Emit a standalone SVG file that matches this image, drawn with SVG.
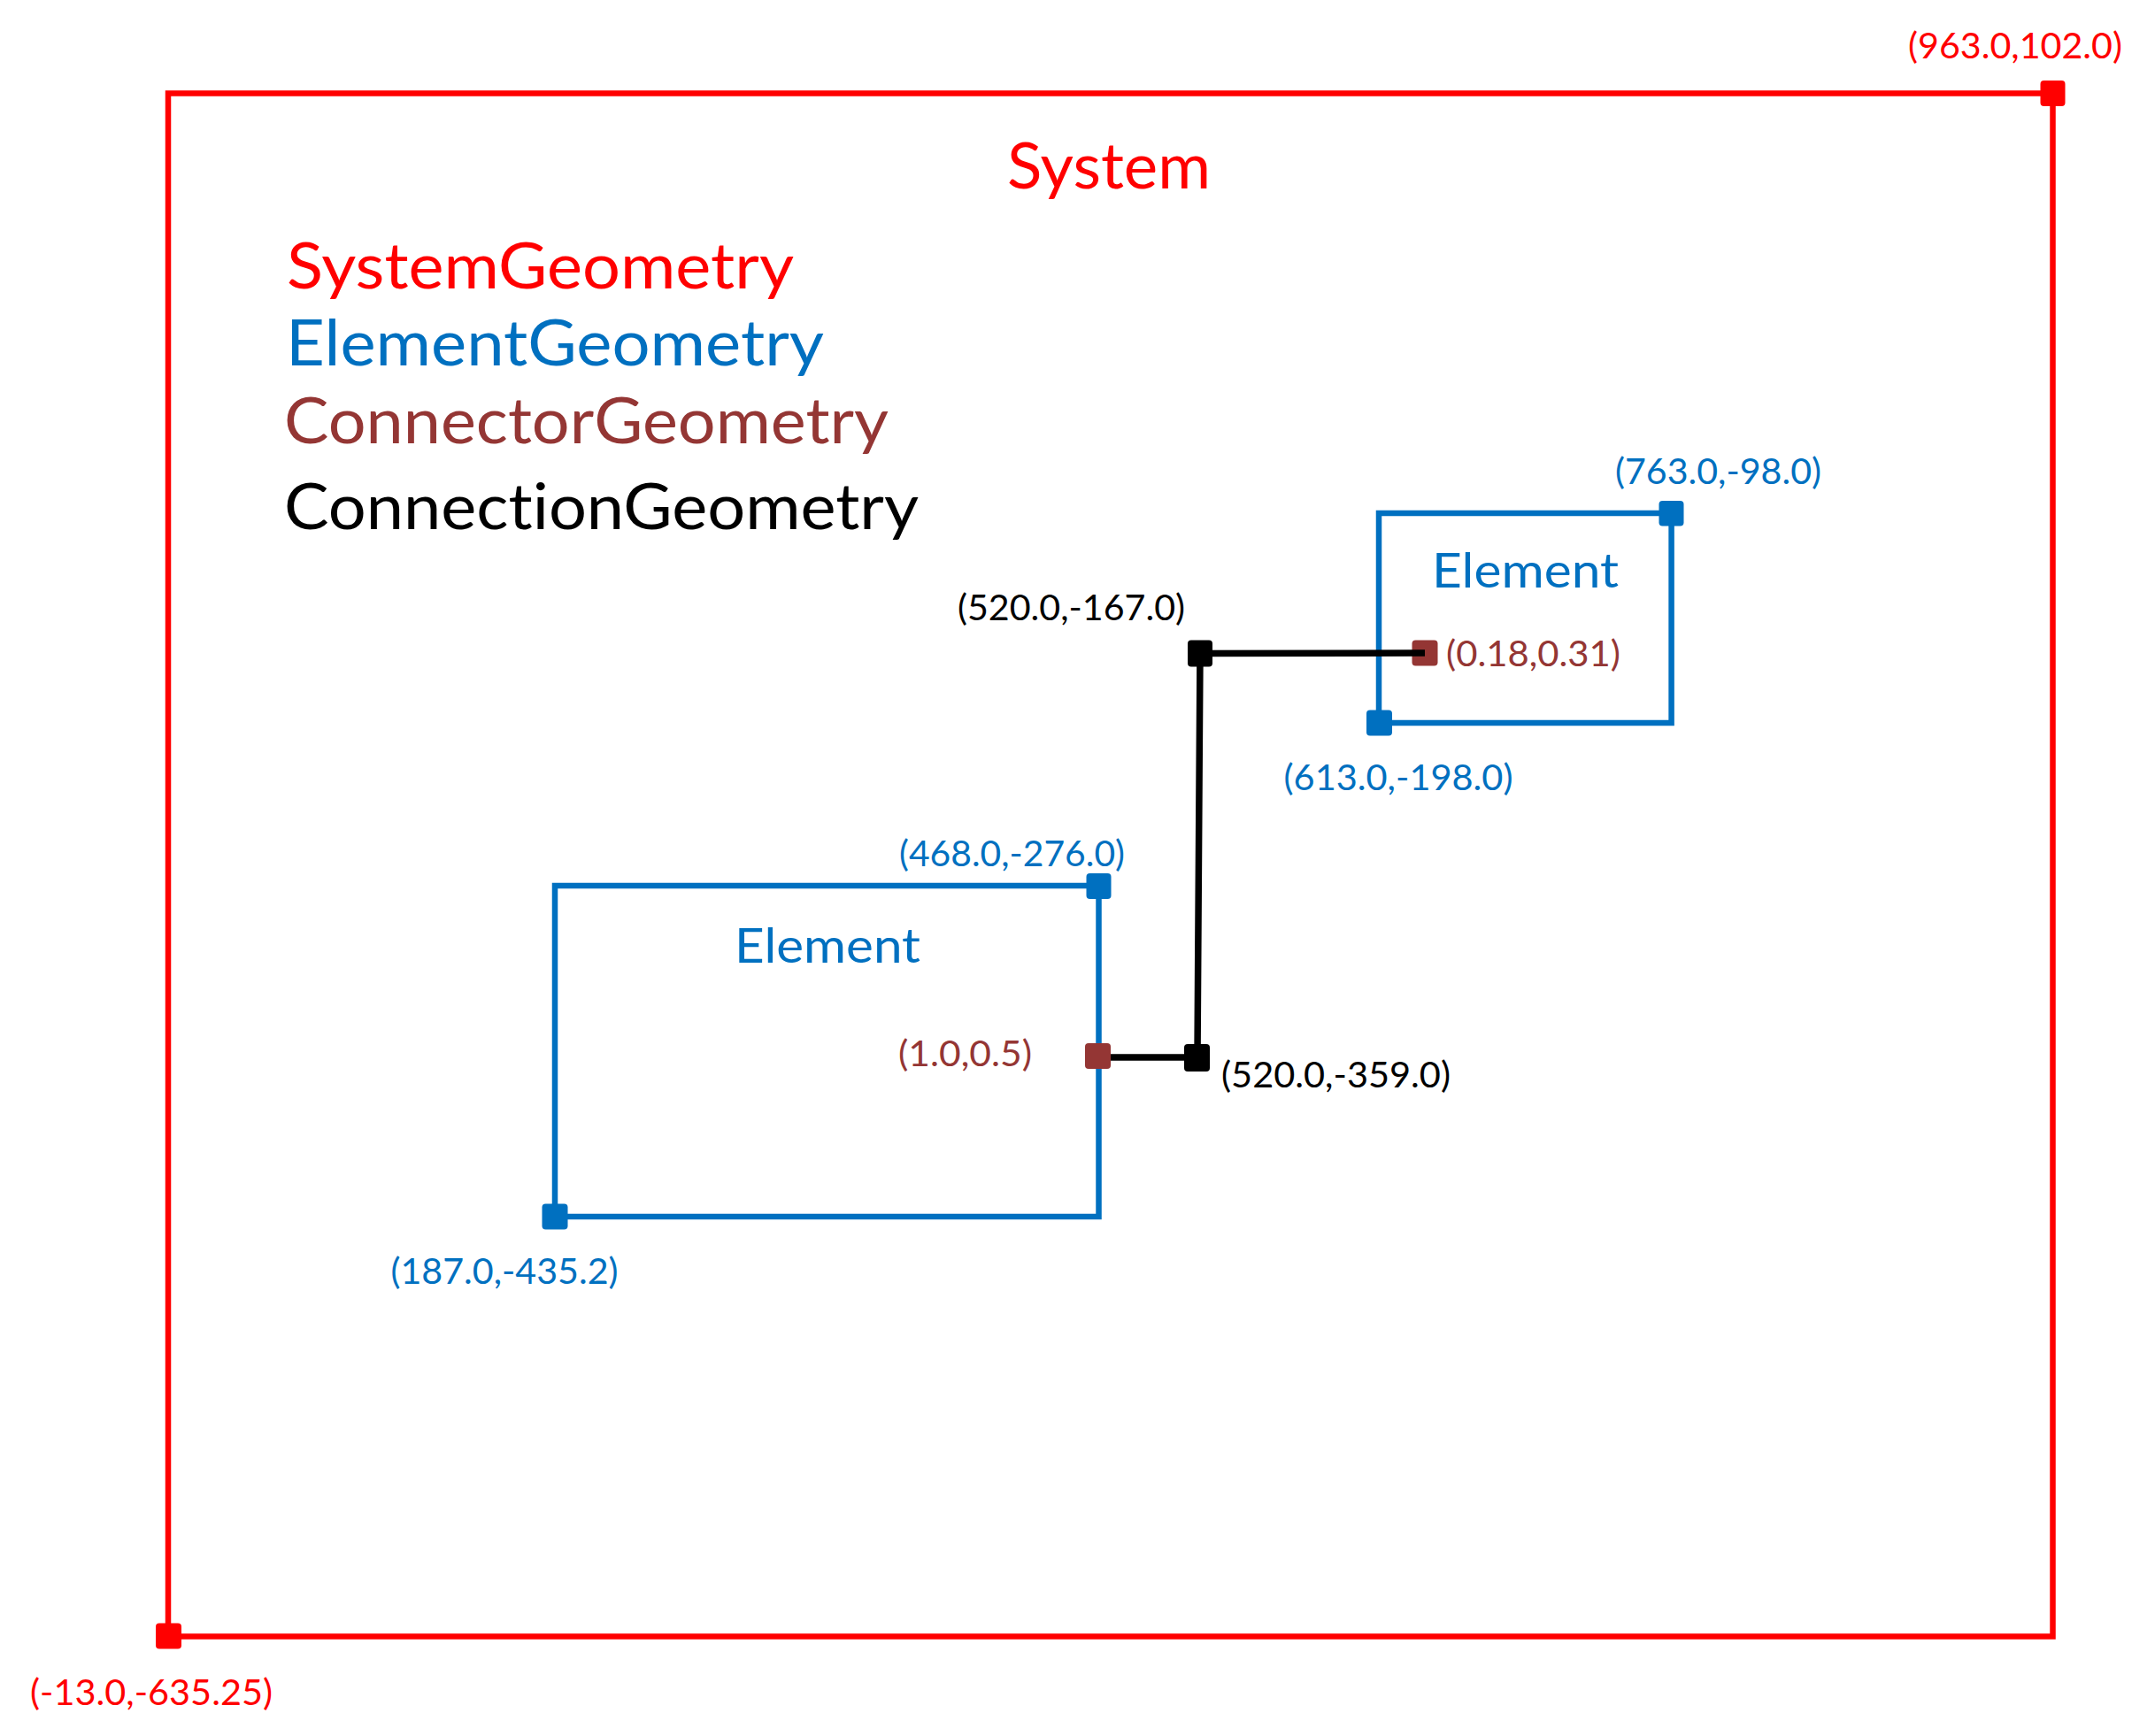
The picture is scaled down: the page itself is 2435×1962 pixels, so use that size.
<svg xmlns="http://www.w3.org/2000/svg" width="2435" height="1962" viewBox="0 0 2435 1962">
<style>
text{font-family:Lato,"Open Sans","Liberation Sans",sans-serif;font-variant-ligatures:none;font-feature-settings:"liga" 0,"dlig" 0,"clig" 0}
.red{fill:#FF0000}.blue{fill:#0070C0}.brown{fill:#943634}.black{fill:#000}
.lbl{font-size:40px}
.title{font-size:55px}
.legend{font-size:72px}
.frame{fill:none;stroke-width:6.5;stroke-linejoin:miter}
.pt{stroke:none}
</style>
<rect width="2435" height="1962" fill="#fff"/>
<g id="system">
<rect class="frame" x="190" y="105.5" width="2129.5" height="1744" stroke="#FF0000"/>
<rect class="pt red" x="2305.5" y="91" width="28" height="29" rx="4"/>
<rect class="pt red" x="176" y="1834.5" width="29" height="29" rx="4"/>
<text class="red" x="1253" y="213" text-anchor="middle" textLength="230" lengthAdjust="spacingAndGlyphs" style="font-size:72px">System</text>
<text class="red lbl" x="2277" y="66" text-anchor="middle" textLength="242" lengthAdjust="spacingAndGlyphs">(963.0,102.0)</text>
<text class="red lbl" x="171" y="1927" text-anchor="middle" textLength="274" lengthAdjust="spacingAndGlyphs">(-13.0,-635.25)</text>
</g>
<g id="legend">
<text class="red legend" x="324" y="326" textLength="573" lengthAdjust="spacingAndGlyphs">SystemGeometry</text>
<text class="blue legend" x="323" y="413" textLength="608" lengthAdjust="spacingAndGlyphs">ElementGeometry</text>
<text class="brown legend" x="321" y="501" textLength="683" lengthAdjust="spacingAndGlyphs">ConnectorGeometry</text>
<text class="black legend" x="321" y="598" textLength="717" lengthAdjust="spacingAndGlyphs">ConnectionGeometry</text>
</g>
<g id="element-small">
<rect class="frame" x="1558" y="580" width="330.6" height="237" stroke="#0070C0"/>
<rect class="pt blue" x="1874.5" y="566" width="28" height="28.5" rx="4"/>
<rect class="pt blue" x="1544" y="802.5" width="29" height="29" rx="4"/>
<text class="blue title" x="1723.5" y="664" text-anchor="middle" textLength="211" lengthAdjust="spacingAndGlyphs">Element</text>
<text class="blue lbl" x="1941.5" y="547" text-anchor="middle" textLength="233" lengthAdjust="spacingAndGlyphs">(763.0,-98.0)</text>
<text class="blue lbl" x="1580" y="893" text-anchor="middle" textLength="259" lengthAdjust="spacingAndGlyphs">(613.0,-198.0)</text>
<rect class="pt brown" x="1595.5" y="723.5" width="29" height="29" rx="4"/>
<text class="brown lbl" x="1634" y="753" textLength="197" lengthAdjust="spacingAndGlyphs">(0.18,0.31)</text>
</g>
<g id="element-big">
<rect class="frame" x="627" y="1001" width="614.5" height="374" stroke="#0070C0"/>
<rect class="pt blue" x="1227.5" y="987" width="28" height="29" rx="4"/>
<rect class="pt blue" x="612.5" y="1360.5" width="29" height="29" rx="4"/>
<text class="blue title" x="935" y="1088" text-anchor="middle" textLength="210" lengthAdjust="spacingAndGlyphs">Element</text>
<text class="blue lbl" x="1143.5" y="979" text-anchor="middle" textLength="255" lengthAdjust="spacingAndGlyphs">(468.0,-276.0)</text>
<text class="blue lbl" x="570" y="1451" text-anchor="middle" textLength="257" lengthAdjust="spacingAndGlyphs">(187.0,-435.2)</text>
<text class="brown lbl" x="1166" y="1204.5" text-anchor="end" textLength="151" lengthAdjust="spacingAndGlyphs">(1.0,0.5)</text>
</g>
<g id="connectors">
<path d="M1610,738 L1356,738.5 L1353,1195 L1241,1195" fill="none" stroke="#000" stroke-width="7.5" stroke-linejoin="miter"/>
<rect class="pt brown" x="1226" y="1179" width="29" height="29" rx="4"/>
<rect class="pt black" x="1342" y="723.5" width="28" height="30" rx="4"/>
<rect class="pt black" x="1338" y="1180" width="29" height="31" rx="4"/>
<text class="black lbl" x="1210.5" y="701" text-anchor="middle" textLength="257" lengthAdjust="spacingAndGlyphs">(520.0,-167.0)</text>
<text class="black lbl" x="1380" y="1229" textLength="259" lengthAdjust="spacingAndGlyphs">(520.0,-359.0)</text>
</g>
</svg>
